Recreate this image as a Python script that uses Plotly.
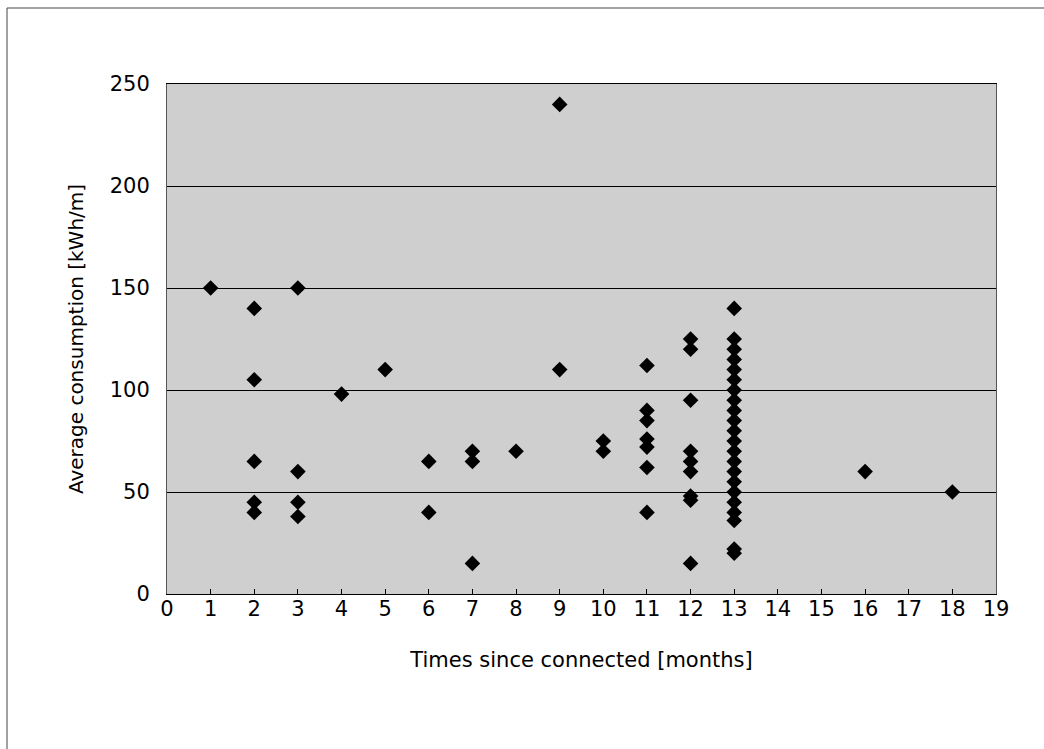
import plotly.graph_objects as go

# Data (months since connection, average consumption kWh/m)
months_1 = [1]
cons_1 = [150]
months_2 = [2, 2, 2, 2, 2]
cons_2 = [140, 105, 65, 45, 40]
months_3 = [3, 3, 3, 3]
cons_3 = [150, 60, 45, 38]
months_4 = [4]
cons_4 = [98]
months_5 = [5]
cons_5 = [110]
months_6 = [6, 6]
cons_6 = [65, 40]
months_7 = [7, 7, 7]
cons_7 = [70, 65, 15]
months_8 = [8]
cons_8 = [70]
months_9 = [9, 9]
cons_9 = [240, 110]
months_10 = [10, 10]
cons_10 = [75, 70]
months_11 = [11, 11, 11, 11, 11, 11, 11]
cons_11 = [112, 90, 85, 76, 72, 62, 40]
months_12 = [12, 12, 12, 12, 12, 12, 12, 12, 12]
cons_12 = [125, 120, 95, 70, 65, 60, 48, 46, 15]
cons_13 = [140, 125, 120, 115, 110, 105, 100, 95, 90, 85, 80, 75, 70,
           65, 60, 55, 50, 45, 40, 36, 22, 20]
months_13 = [13] * len(cons_13)
months_16 = [16]
cons_16 = [60]
months_18 = [18]
cons_18 = [50]

x_all = (months_1 + months_2 + months_3 + months_4 + months_5 + months_6 + months_7
         + months_8 + months_9 + months_10 + months_11 + months_12 + months_13
         + months_16 + months_18)
y_all = (cons_1 + cons_2 + cons_3 + cons_4 + cons_5 + cons_6 + cons_7
         + cons_8 + cons_9 + cons_10 + cons_11 + cons_12 + cons_13
         + cons_16 + cons_18)

x_ticks = list(range(0, 20))
y_ticks = [0, 50, 100, 150, 200, 250]

FONT = "DejaVu Sans"

fig = go.Figure()
fig.add_trace(go.Scatter(
    x=x_all, y=y_all, mode="markers",
    marker=dict(symbol="diamond", size=12, color="black", line=dict(width=0)),
    showlegend=False, cliponaxis=False,
))

fig.update_layout(
    width=1044, height=749,
    margin=dict(l=167, r=48, t=84, b=155),
    paper_bgcolor="white",
    plot_bgcolor="#cfcfcf",
    font=dict(family=FONT, size=21, color="black"),
    xaxis=dict(
        range=[0, 19], tickvals=x_ticks, ticktext=[str(v) for v in x_ticks],
        showgrid=False, zeroline=False,
        showline=True, linecolor="black", linewidth=1, mirror=True,
        ticks="inside", ticklen=5, tickcolor="black",
        ticklabelstandoff=-4,
        title=dict(text="Times since connected [months]", standoff=32,
                   font=dict(family=FONT, size=21)),
    ),
    yaxis=dict(
        range=[0, 250], tickvals=y_ticks, ticktext=[str(v) for v in y_ticks],
        showgrid=True, gridcolor="black", gridwidth=1, zeroline=False,
        showline=True, linecolor="#555555", linewidth=1, mirror=True,
        ticks="", ticklabelstandoff=12,
        title=dict(text="Average consumption [kWh/m]", standoff=20,
                   font=dict(family=FONT, size=20)),
    ),
    shapes=[
        dict(type="line", xref="paper", yref="paper",
             x0=(7 - 167) / 829, x1=(1044 - 167) / 829,
             y0=(594 - 8) / 510, y1=(594 - 8) / 510,
             line=dict(color="#444444", width=1)),
        dict(type="line", xref="paper", yref="paper",
             x0=(7 - 167) / 829, x1=(7 - 167) / 829,
             y0=(594 - 8) / 510, y1=(594 - 749) / 510,
             line=dict(color="#444444", width=1)),
    ],
)

fig.write_html("out.html")
